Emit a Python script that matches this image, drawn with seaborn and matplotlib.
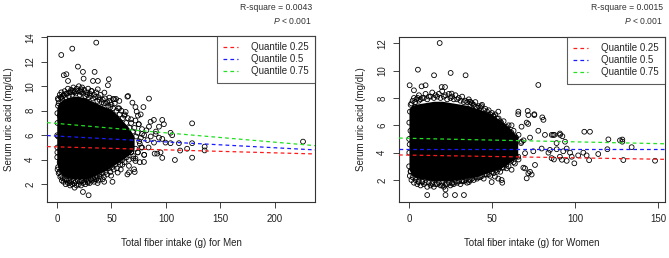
import numpy as np
import pandas as pd
import matplotlib
matplotlib.use("Agg")
import matplotlib.pyplot as plt
import seaborn as sns

# =======================
# DATA
# =======================
# dense black core of each cloud: x, lower edge, upper edge
men_core_x = [0.5, 2, 5, 10, 15, 20, 25, 30, 35, 40, 45, 50, 55, 60, 65, 70]
men_core_lo = [3.7, 3.2, 2.8, 2.6, 2.5, 2.5, 2.5, 2.6, 2.8, 3.0, 3.2, 3.5, 3.8, 4.1, 4.4, 4.9]
men_core_hi = [8.2, 8.6, 8.8, 9.0, 9.1, 9.1, 9.0, 8.8, 8.6, 8.4, 8.2, 8.0, 7.6, 7.1, 6.6, 5.9]

women_core_x = [0.5, 2, 5, 10, 15, 20, 25, 30, 35, 40, 45, 50, 55, 60, 65]
women_core_lo = [2.8, 2.4, 2.2, 2.1, 2.0, 2.0, 2.0, 2.1, 2.2, 2.3, 2.5, 2.7, 2.9, 3.3, 3.7]
women_core_hi = [7.2, 7.4, 7.5, 7.6, 7.7, 7.7, 7.6, 7.5, 7.4, 7.2, 7.0, 6.7, 6.3, 5.8, 5.1]

# circles crowding the edge of each core (outer row)
men_ring_x = [0.8, 1.5, 2.5, 4, 5.5, 7, 8.5, 10, 11.5, 13, 15, 16.5, 18, 20, 21.5, 23,
              25, 27, 28.5, 30, 32, 34, 36, 38, 40, 42, 44, 46, 48, 50, 53, 56, 59,
              62, 65, 68, 71, 74, 77,
              0.5, 1.5, 3, 4.5, 6, 8, 10, 12, 14, 16, 18, 20, 22, 24, 26, 28, 30,
              32, 34, 36, 38, 40, 43, 46, 49, 52, 55, 58, 62, 66, 70, 74, 78,
              0.2, 0.3, 0.2, 0.4, 0.3, 72, 75, 78, 80, 83, 68, 72, 76, 80, 84]
men_ring_y = [9.0, 8.6, 9.3, 9.5, 9.2, 9.6, 9.4, 9.8, 9.5, 9.7, 9.9, 9.6, 9.8, 10.0, 9.6, 9.9,
              9.7, 9.5, 9.8, 9.4, 9.6, 9.3, 9.5, 9.1, 9.3, 8.9, 9.0, 8.7, 8.8, 8.5, 8.6, 8.2, 8.0,
              7.7, 7.4, 7.0, 6.6, 6.2, 5.8,
              3.2, 2.9, 2.6, 2.3, 2.2, 2.0, 2.1, 1.9, 2.0, 2.1, 1.9, 2.0, 1.9, 2.1, 2.0, 2.2, 2.1,
              2.3, 2.2, 2.4, 2.3, 2.6, 2.6, 2.8, 3.0, 3.2, 3.3, 3.6, 3.8, 4.0, 4.3, 4.6, 5.0,
              4.2, 5.0, 6.0, 7.0, 7.8, 7.2, 6.9, 6.5, 6.0, 5.6, 4.6, 4.1, 3.8, 4.4, 5.0]

# inner row, half over the core edge
men_ring2_x = [1.2, 3.2, 4.8, 6.2, 7.8, 9.2, 10.8, 12.2, 14, 15.8, 17.2, 19, 20.8, 22.2,
               24, 26, 27.8, 29.2, 31, 33, 35, 37, 39, 41, 43, 45, 47, 49, 51.5, 54.5,
               57.5, 60.5, 63.5, 66.5, 69.5, 72.5, 75.5,
               1, 2.2, 3.8, 5.2, 7, 9, 11, 13, 15, 17, 19, 21, 23, 25, 27, 29, 31, 33,
               35, 37, 39, 41.5, 44.5, 47.5, 50.5, 53.5, 56.5, 60, 64, 68, 72, 76]
men_ring2_y = [8.9, 9.1, 9.0, 9.3, 9.1, 9.4, 9.2, 9.5, 9.3, 9.5, 9.4, 9.6, 9.3, 9.5,
               9.4, 9.2, 9.3, 9.1, 9.2, 9.0, 9.1, 8.8, 8.9, 8.7, 8.6, 8.6, 8.4, 8.3, 8.2, 8.0,
               7.7, 7.4, 7.0, 6.6, 6.3, 5.9, 5.5,
               3.4, 3.0, 2.7, 2.5, 2.4, 2.3, 2.3, 2.2, 2.3, 2.2, 2.3, 2.2, 2.3, 2.2, 2.4, 2.3,
               2.4, 2.5, 2.6, 2.6, 2.8, 2.9, 3.0, 3.3, 3.4, 3.6, 3.8, 4.0, 4.2, 4.6, 4.9, 5.3]

women_ring_x = [0.6, 1.5, 3, 4.5, 6, 8, 10, 12, 14, 16, 18, 20, 22, 24, 26, 28, 30, 32,
                34, 36, 38, 40, 42, 44, 46, 48, 50, 52, 54, 57, 60, 63, 66, 69,
                0.5, 1.5, 3, 5, 7, 9, 11, 13, 15, 17, 19, 21, 23, 25, 27, 29, 31, 33,
                35, 37, 39, 41, 43, 45, 47, 49, 51, 53, 55, 57, 60, 63, 66,
                0.1, 0.2, 0.1, 0.2]
women_ring_y = [7.0, 7.6, 8.0, 7.9, 8.2, 8.0, 8.3, 8.1, 8.4, 8.2, 8.3, 8.5, 8.2, 8.3, 8.1, 8.2, 8.0, 8.1,
                7.8, 7.9, 7.6, 7.7, 7.4, 7.5, 7.2, 7.1, 6.9, 6.8, 6.5, 6.3, 6.0, 5.6, 5.3, 4.9,
                2.3, 2.0, 1.8, 1.7, 1.6, 1.7, 1.5, 1.6, 1.5, 1.7, 1.6, 1.5, 1.7, 1.6, 1.7, 1.8, 1.7, 1.9,
                1.8, 2.0, 2.0, 2.1, 2.2, 2.1, 2.4, 2.3, 2.5, 2.6, 2.6, 2.9, 3.0, 3.3, 3.5,
                3.0, 4.0, 5.0, 6.2]

women_ring2_x = [1, 2.2, 3.8, 5.2, 7, 9, 11, 13, 15, 17, 19, 21, 23, 25, 27, 29, 31, 33,
                 35, 37, 39, 41, 43, 45, 47, 49, 51, 53, 55.5, 58.5, 61.5, 64.5, 67.5,
                 1, 2.2, 4, 6, 8, 10, 12, 14, 16, 18, 20, 22, 24, 26, 28, 30, 32, 34,
                 36, 38, 40, 42, 44, 46, 48, 50, 52, 54, 56, 58.5, 61.5, 64.5]
women_ring2_y = [7.5, 7.8, 7.7, 8.0, 7.9, 8.0, 7.9, 8.1, 8.0, 8.1, 8.0, 8.1, 7.9, 8.0, 7.9, 7.9, 7.8, 7.7,
                 7.7, 7.5, 7.5, 7.3, 7.3, 7.1, 7.0, 6.8, 6.7, 6.5, 6.2, 5.9, 5.5, 5.1, 4.7,
                 2.6, 2.2, 2.0, 1.9, 1.9, 1.8, 1.8, 1.8, 1.7, 1.8, 1.8, 1.7, 1.8, 1.8, 1.9, 1.9, 1.9, 2.0,
                 2.0, 2.1, 2.2, 2.2, 2.3, 2.4, 2.4, 2.6, 2.7, 2.8, 2.9, 3.1, 3.4, 3.7]

# individual visible points away from the core
men_x = [36, 3.9, 14, 19.2, 6.2, 8.6, 23.8, 34.5, 10.1, 24.4, 33, 37.5, 47.6, 46.7,
         3.9, 14.5, 22.2, 31.3, 37.4, 43.5, 48, 52.6, 57.2, 0.9, 2.4, 0.9, 0.3, 2.4,
         3.9, 8.5, 11.5, 17.6, 22.2, 28.3, 34.3, 41.9, 49.6, 55.7, 23.8, 29, 16.1,
         65.2, 69.2, 79.3, 72, 76.8, 84.4, 96.6, 98.1, 85.9, 124, 104.2, 105.7, 90.5,
         93.6, 96.6, 99.6, 104.2, 89, 124, 119.4, 124, 113, 108.2, 96.6, 92, 95,
         79.8, 70.7, 71.3, 66.1, 64.6, 74.3, 77.3, 135.5, 135.5, 111.9, 225.8,
         54.2, 51.5, 64.6, 73.1, 74.3, 88.9, 93.6, 84.4, 90.8, 89.6, 50.9, 43.3,
         37.2, 58.5, 62, 68, 75, 82, 60, 66, 72, 80, 86, 57, 63, 70, 78]
men_y = [13.56, 12.55, 13.07, 11.6, 10.9, 10.98, 11.17, 11.17, 10.43, 10.62, 10.43, 10.43, 10.57, 10.08,
         9.07, 9.62, 9.75, 9.62, 9.75, 9.48, 9.07, 8.94, 8.8, 8.4, 7.6, 5.9, 4.6, 3.8,
         3.1, 2.4, 2.1, 2.7, 2.3, 2.13, 2.4, 2.4, 2.7, 2.95, 1.37, 1.1, 1.72,
         9.2, 8.66, 8.3, 8.3, 7.7, 8.99, 7.25, 6.9, 7.1, 6.97, 6.2, 6.0, 6.1,
         5.8, 5.7, 5.4, 5.35, 5.4, 5.35, 4.9, 4.17, 4.75, 3.98, 4.15, 4.5, 4.6,
         3.82, 3.22, 3.0, 2.97, 2.8, 4.6, 5.0, 5.07, 4.76, 5.35, 5.48,
         8.96, 8.96, 9.15, 7.93, 7.6, 7.25, 6.7, 6.7, 6.3, 4.5, 2.2, 2.2,
         2.1, 3.2, 7.6, 7.3, 6.9, 6.4, 3.6, 3.5, 3.9, 4.4, 5.9, 8.2, 7.9, 4.1, 6.1]

women_x = [18.5, 5.4, 15.1, 25.1, 34.1, 0.4, 3, 7.6, 10, 19.7, 21.7, 25.7, 37.1, 40.2,
           4.0, 6, 0.9, 0.4, 1, 4, 8, 14, 20, 26.1, 32.1, 36.1, 11, 22, 22, 27.7, 33.1,
           77.9, 36.7, 43.6, 53.8, 65.9, 71.9, 75.5, 80.3, 81, 70.9, 86, 87.6, 91,
           92.4, 105.6, 109, 120.1, 127.1, 128.5, 128.5, 134.1, 129.1, 148.2, 119.5,
           114, 107, 105, 108.5, 101.9, 99.6, 98, 95, 97, 95, 94, 89, 84, 87.3, 92.1,
           71.9, 73.9, 70.9, 75.9, 68.9, 56.2, 53.8, 49.8, 5.7,
           71.5, 75.5, 61.8, 67.8, 71.8, 77.9, 81.9, 86.9, 90.9, 88.9, 84.9, 79.9,
           74.9, 69.9, 65.8, 63.8, 69.9, 72.9, 58.8, 55.8, 51.8, 61.8, 90.9, 85.9,
           92.9, 47.8, 50.8, 54.8, 58.8, 63.8, 60.8, 67.8, 72.9, 65.8]
women_y = [12.02, 10.07, 9.66, 9.83, 9.66, 8.93, 8.56, 8.85, 8.93, 8.8, 8.8, 8.32, 7.7, 7.34,
           7.34, 7.8, 5.6, 4.6, 2.65, 2.2, 1.85, 1.7, 1.6, 1.73, 1.96, 1.85, 0.9, 1.3, 0.9, 0.9, 0.9,
           8.95, 7.73, 7.4, 7.0, 7.0, 6.75, 6.75, 6.58, 6.4, 6.2, 5.3, 5.3, 5.3,
           5.2, 5.53, 5.53, 4.97, 4.9, 4.96, 4.8, 4.4, 3.46, 3.41, 4.25,
           3.9, 3.8, 4.0, 3.45, 3.8, 3.22, 3.7, 3.4, 4.0, 4.3, 4.8, 4.25, 4.0, 3.5, 3.48,
           2.49, 2.4, 2.12, 3.1, 2.9, 1.8, 2.1, 1.85, 1.85,
           7.05, 6.81, 6.0, 5.9, 6.1, 5.6, 5.3, 5.3, 5.4, 4.7, 4.2, 4.3,
           4.1, 3.96, 3.7, 3.2, 2.85, 2.6, 2.85, 2.0, 2.25, 2.75, 3.7, 3.6,
           4.1, 6.8, 6.65, 6.3, 5.7, 5.2, 4.7, 4.8, 5.1, 6.81]

# quantile regression lines: intercept, slope
quantiles = ["Quantile 0.25", "Quantile 0.5", "Quantile 0.75"]
line_colors = ["#ff1a1a", "#1a1aff", "#22e022"]
men_coef = [(5.05, -0.00244), (5.93, -0.00476), (6.96, -0.00764)]
women_coef = [(3.82, -0.0020), (4.27, 0.0), (5.05, -0.0026)]

men_stats = ("R-square = 0.0043", "$P$ < 0.001")
women_stats = ("R-square = 0.0015", "$P$ < 0.001")

# =======================
# STYLE
# =======================
sns.set_style("ticks")
plt.rcParams["font.family"] = ["Liberation Sans", "DejaVu Sans"]
plt.rcParams["mathtext.fontset"] = "custom"
plt.rcParams["mathtext.it"] = "Liberation Sans:italic"
plt.rcParams["mathtext.rm"] = "Liberation Sans"
FS = 7
INK = "#222222"

fig = plt.figure(figsize=(6.69, 2.58), dpi=100)


def circles(ax, xs, ys):
    pts = pd.DataFrame({"x": xs, "y": ys})
    sns.scatterplot(data=pts, x="x", y="y", ax=ax, marker="o", s=12,
                    facecolor="none", edgecolor="black", linewidth=0.6, zorder=2)


def draw_panel(rect, core_x, core_lo, core_hi, ring_x, ring_y, px, py, coefs,
               xlim, ylim, xticks, yticks, xlabel, stats, stats_x):
    ax = fig.add_axes(rect)
    ax.fill_between(core_x, core_lo, core_hi, color="black", lw=1.2, zorder=2)
    circles(ax, ring_x, ring_y)
    circles(ax, px, py)
    for (b, m), c, lab in zip(coefs, line_colors, quantiles):
        ax.axline((0, b), slope=m, color=c, ls=(0, (3, 2.5)), lw=0.9,
                  label=lab, zorder=3)
    ax.set_xlim(*xlim)
    ax.set_ylim(*ylim)
    ax.set_xticks(xticks)
    ax.set_yticks(yticks)
    ax.set_yticklabels([str(t) for t in yticks], rotation=90, va="center")
    ax.tick_params(labelsize=FS, length=4, width=0.6, pad=4.5, colors=INK)
    for s in ax.spines.values():
        s.set_visible(True)
        s.set_linewidth(0.8)
        s.set_color("#333333")
    ax.set_xlabel(xlabel, fontsize=FS, labelpad=10, color=INK)
    ax.set_ylabel("Serum uric acid (mg/dL)", fontsize=FS, labelpad=8, color=INK)
    leg = ax.legend(loc="upper right", fontsize=FS, frameon=True, fancybox=False,
                    borderaxespad=0, handlelength=1.6, handletextpad=1.3,
                    labelspacing=0.2, borderpad=0.65)
    leg.get_frame().set_edgecolor("#333333")
    leg.get_frame().set_linewidth(0.8)
    leg.set_zorder(5)
    fig.text(stats_x, 1 - 8 / 258, stats[0], ha="right", va="center", fontsize=6.2,
             color="#333333")
    fig.text(stats_x, 1 - 21 / 258, stats[1], ha="right", va="center", fontsize=6.2,
             color="#333333")
    return ax


draw_panel([47 / 669, 56 / 258, 268 / 669, 166 / 258],
           men_core_x, men_core_lo, men_core_hi,
           men_ring_x + men_ring2_x, men_ring_y + men_ring2_y,
           men_x, men_y, men_coef,
           (-9.2, 236.8), (0.55, 14.1), [0, 50, 100, 150, 200], [2, 4, 6, 8, 10, 12, 14],
           "Total fiber intake (g) for Men", men_stats, 312 / 669)

draw_panel([399 / 669, 56 / 258, 266 / 669, 165 / 258],
           women_core_x, women_core_lo, women_core_hi,
           women_ring_x + women_ring2_x, women_ring_y + women_ring2_y,
           women_x, women_y, women_coef,
           (-6.0, 154.2), (0.39, 12.46), [0, 50, 100, 150], [2, 4, 6, 8, 10, 12],
           "Total fiber intake (g) for Women", women_stats, 663 / 669)

fig.savefig("out.png", dpi=100)
